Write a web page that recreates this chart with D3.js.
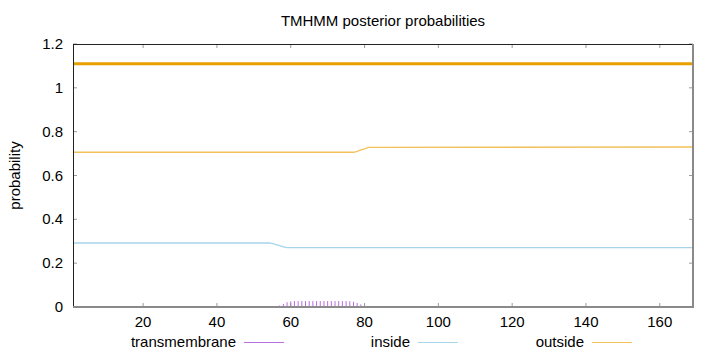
<!DOCTYPE html>
<html>
<head>
<meta charset="utf-8">
<script src="https://cdn.jsdelivr.net/npm/d3@7"></script>
<style>
  body { margin: 0; background: #fff; }
  svg text { font-family: "Liberation Sans", Arial, sans-serif; fill: #000; font-size: 15px; }
</style>
</head>
<body>
<div id="chart"></div>
<script>
// posterior probabilities (residue position -> value)
var seqLength = 169;
var xTicks = [20, 40, 60, 80, 100, 120, 140, 160];
var yTicks = [0, 0.2, 0.4, 0.6, 0.8, 1, 1.2];

var insidePos = [1, 54, 55, 56, 57, 58, 59, 169];
var insideVal = [0.292, 0.292, 0.290, 0.285, 0.280, 0.274, 0.271, 0.271];

var outsidePos = [1, 77, 78, 79, 80, 81, 169];
var outsideVal = [0.706, 0.706, 0.710, 0.717, 0.722, 0.728, 0.730];

var tmPos = [56, 57, 58, 59, 60, 61, 62, 63, 64, 65, 66, 67, 68, 69, 70, 71, 72, 73, 74, 75, 76, 77, 78, 79, 80];
var tmVal = [0.004, 0.007, 0.014, 0.022, 0.026, 0.027, 0.027, 0.027, 0.027, 0.027, 0.027, 0.027, 0.027, 0.027,
             0.027, 0.027, 0.027, 0.027, 0.027, 0.027, 0.026, 0.024, 0.019, 0.012, 0.005];

// predicted topology bar (outside over the whole sequence)
var topoStart = [1];
var topoEnd = [169];
var topoLevel = 1.11;

var legendNames = ["transmembrane", "inside", "outside"];
var colors = { transmembrane: "#b66ee0", inside: "#a6d4ea", outside: "#f2c15a", topo: "#e8a000" };

var W = 720, H = 352;
// plot frame (window.top is read-only, so no bare "top")
var pL = 73, pR = 693, pT = 44, pB = 307;

var svg = d3.select("#chart").append("svg")
  .attr("width", W)
  .attr("height", H);

var x = d3.scaleLinear().domain([1, seqLength]).range([pL, pR]);
var y = d3.scaleLinear().domain([0, 1.2]).range([pB, pT]);

// title and axis label
svg.append("text")
  .attr("x", (pL + pR) / 2)
  .attr("y", 26)
  .attr("text-anchor", "middle")
  .text("TMHMM posterior probabilities");

svg.append("text")
  .attr("transform", "translate(20," + ((pT + pB) / 2) + ") rotate(-90)")
  .attr("text-anchor", "middle")
  .text("probability");

// ticks, inward on all four sides (gnuplot style)
var tickCol = "#9a9a9a";
yTicks.forEach(function(t) {
  svg.append("line").attr("x1", pL).attr("x2", pL + 4)
    .attr("y1", y(t)).attr("y2", y(t)).attr("stroke", tickCol);
  svg.append("line").attr("x1", pR - 4).attr("x2", pR)
    .attr("y1", y(t)).attr("y2", y(t)).attr("stroke", tickCol);
  svg.append("text")
    .attr("x", pL - 10)
    .attr("y", y(t) + 5)
    .attr("text-anchor", "end")
    .text(d3.format("~g")(t));
});
xTicks.forEach(function(t) {
  svg.append("line").attr("x1", x(t)).attr("x2", x(t))
    .attr("y1", pB).attr("y2", pB - 4).attr("stroke", tickCol);
  svg.append("line").attr("x1", x(t)).attr("x2", x(t))
    .attr("y1", pT).attr("y2", pT + 4).attr("stroke", tickCol);
  svg.append("text")
    .attr("x", x(t))
    .attr("y", pB + 20)
    .attr("text-anchor", "middle")
    .text(t);
});

// topology bar
topoStart.forEach(function(s, i) {
  svg.append("line")
    .attr("x1", x(s)).attr("x2", x(topoEnd[i]))
    .attr("y1", y(topoLevel)).attr("y2", y(topoLevel))
    .attr("stroke", colors.topo)
    .attr("stroke-width", 3);
});

var line = d3.line()
  .x(function(d) { return x(d[0]); })
  .y(function(d) { return y(d[1]); });

svg.append("path")
  .attr("d", line(d3.zip(outsidePos, outsideVal)))
  .attr("fill", "none")
  .attr("stroke", colors.outside)
  .attr("stroke-width", 1.3);

svg.append("path")
  .attr("d", line(d3.zip(insidePos, insideVal)))
  .attr("fill", "none")
  .attr("stroke", colors.inside)
  .attr("stroke-width", 1.3);

// transmembrane as impulses
svg.selectAll("line.tm")
  .data(d3.zip(tmPos, tmVal))
  .enter().append("line")
  .attr("class", "tm")
  .attr("x1", function(d) { return x(d[0]); })
  .attr("x2", function(d) { return x(d[0]); })
  .attr("y1", y(0))
  .attr("y2", function(d) { return y(d[1]); })
  .attr("stroke", colors.transmembrane)
  .attr("stroke-width", 1);

// border: top/left dark, bottom/right grey
svg.append("line").attr("x1", pL).attr("x2", pR).attr("y1", pT + 0.5).attr("y2", pT + 0.5)
  .attr("stroke", "#222");
svg.append("line").attr("x1", pL + 0.5).attr("x2", pL + 0.5).attr("y1", pT).attr("y2", pB)
  .attr("stroke", "#222");
svg.append("line").attr("x1", pL).attr("x2", pR + 1).attr("y1", pB).attr("y2", pB)
  .attr("stroke", "#8a8a8a").attr("stroke-width", 2);
svg.append("line").attr("x1", pR).attr("x2", pR).attr("y1", pT).attr("y2", pB + 1)
  .attr("stroke", "#8a8a8a").attr("stroke-width", 2);

// legend row
legendNames.forEach(function(name, i) {
  var tx = 236 + i * 174;
  svg.append("text")
    .attr("x", tx)
    .attr("y", 347)
    .attr("text-anchor", "end")
    .text(name);
  svg.append("line")
    .attr("x1", tx + 8).attr("x2", tx + 48)
    .attr("y1", 342.5).attr("y2", 342.5)
    .attr("stroke", colors[name])
    .attr("stroke-width", 1);
});
</script>
</body>
</html>
